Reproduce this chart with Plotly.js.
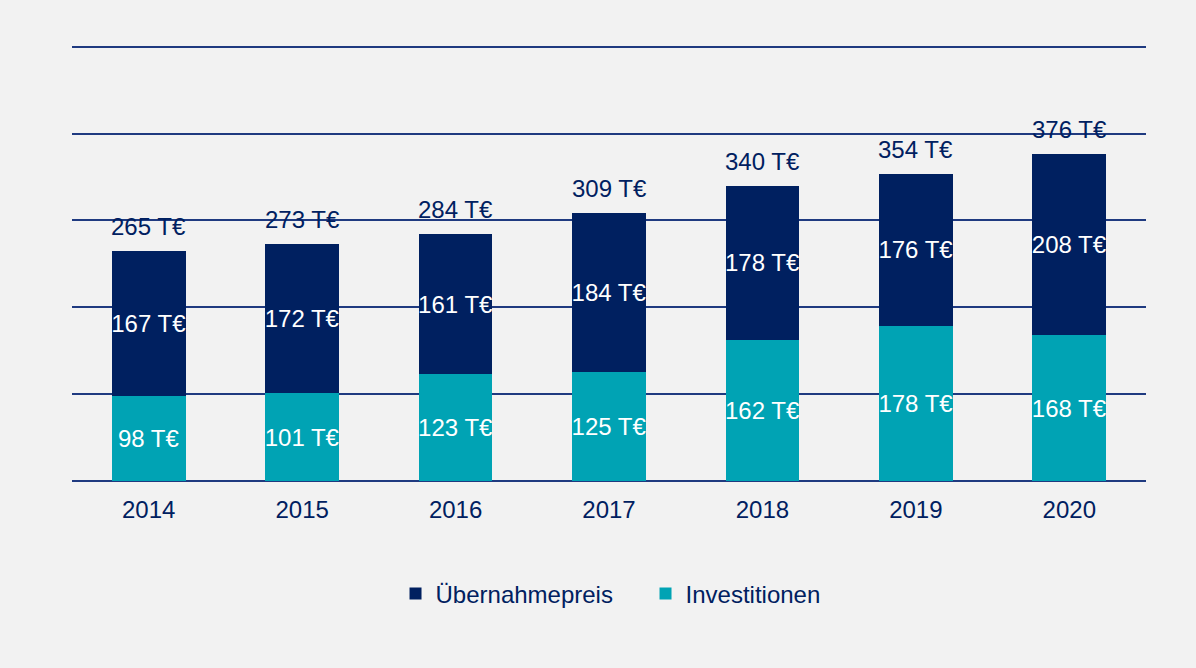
<!DOCTYPE html>
<html>
<head>
<meta charset="utf-8">
<script src="https://cdn.plot.ly/plotly-3.0.1.min.js"></script>
<style>html,body{margin:0;padding:0;background:#f2f2f2;}#chart{width:1196px;height:668px;}</style>
</head>
<body>
<div id="chart"></div>
<script>
const years = ['2014','2015','2016','2017','2018','2019','2020'];
const investitionen = [98, 101, 123, 125, 162, 178, 168];
const uebernahmepreis = [167, 172, 161, 184, 178, 176, 208];
const totals = years.map((y, i) => investitionen[i] + uebernahmepreis[i]);

const NAVY = '#002060';
const TEAL = '#00a3b4';
const FONT = 'Liberation Sans, Arial, sans-serif';

const traces = [
  {
    type: 'bar', name: 'Investitionen', x: years, y: investitionen,
    marker: {color: TEAL},
    text: investitionen.map(v => v + ' T€'), textposition: 'inside', textangle: 0,
    insidetextanchor: 'middle', constraintext: 'none',
    textfont: {color: '#ffffff', size: 24, family: FONT},
    hoverinfo: 'skip'
  },
  {
    type: 'bar', name: 'Übernahmepreis', x: years, y: uebernahmepreis,
    marker: {color: NAVY},
    text: uebernahmepreis.map(v => v + ' T€'), textposition: 'inside', textangle: 0,
    insidetextanchor: 'middle', constraintext: 'none',
    textfont: {color: '#ffffff', size: 24, family: FONT},
    hoverinfo: 'skip'
  }
];

const annotations = years.map((y, i) => ({
  x: y, y: totals[i], xref: 'x', yref: 'y',
  text: totals[i] + ' T€', showarrow: false,
  yanchor: 'bottom', yshift: 9,
  font: {color: NAVY, size: 24, family: FONT}
}));

const layout = {
  width: 1196, height: 668,
  paper_bgcolor: '#f2f2f2', plot_bgcolor: '#f2f2f2',
  margin: {l: 72, r: 50, t: 38, b: 187},
  barmode: 'stack', bargap: 0.52,
  font: {family: FONT, size: 24, color: NAVY},
  xaxis: {
    showgrid: false, showline: false, zeroline: false,
    ticks: 'outside', ticklen: 7, tickcolor: 'rgba(0,0,0,0)',
    tickfont: {size: 24, color: NAVY, family: FONT}
  },
  yaxis: {
    range: [0, 510], tick0: 0, dtick: 100, showticklabels: false,
    showgrid: true, gridcolor: '#1f3a80', gridwidth: 2,
    zeroline: true, zerolinecolor: '#1f3a80', zerolinewidth: 2,
    showline: false, fixedrange: true
  },
  showlegend: true,
  legend: {
    orientation: 'h', x: 0.534, xanchor: 'center', y: -0.255, yanchor: 'middle',
    traceorder: 'reversed', font: {size: 24, color: NAVY, family: FONT},
    bgcolor: 'rgba(0,0,0,0)', itemwidth: 30,
    entrywidth: 205, entrywidthmode: 'pixels'
  },
  annotations: annotations
};

Plotly.newPlot('chart', traces, layout, {displayModeBar: false, staticPlot: true});
</script>
</body>
</html>
